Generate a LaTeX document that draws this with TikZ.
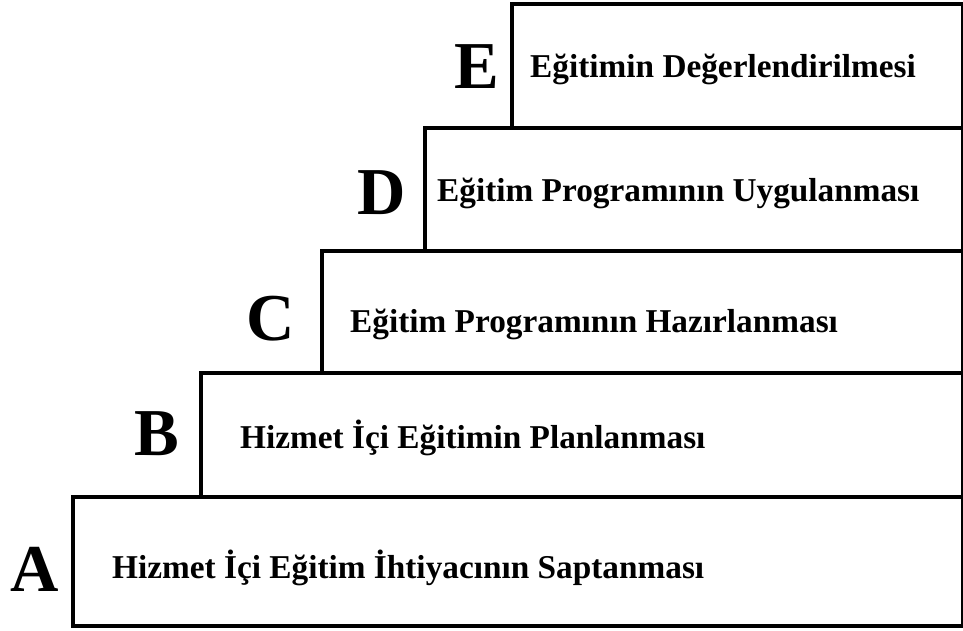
\documentclass[tikz,border=0pt]{standalone}
\usepackage{fontspec}
\setmainfont{Liberation Serif}
\begin{document}
\begin{tikzpicture}[x=1pt,y=-1pt,
  stepbox/.style={draw=black,line width=4pt},
  steplabel/.style={anchor=base west,inner sep=0pt,font=\fontsize{33.3}{34}\selectfont\bfseries},
  stepletter/.style={anchor=base,inner sep=0pt,font=\fontsize{67}{67}\selectfont\bfseries}]
\useasboundingbox (0,0) rectangle (963,630);
% stacked steps, bottom to top
\draw[stepbox] (73,497) rectangle (963,626);
\draw[stepbox] (201,373) rectangle (963,497);
\draw[stepbox] (322,251) rectangle (963,373);
\draw[stepbox] (425,128) rectangle (963,251);
\draw[stepbox] (512,4) rectangle (963,128);
% step titles
\node[steplabel] (ta) at (112,578) {Hizmet İçi Eğitim İhtiyacının Saptanması};
\node[steplabel] (tb) at (240,448) {Hizmet İçi Eğitimin Planlanması};
\node[steplabel] (tc) at (350,332) {Eğitim Programının Hazırlanması};
\node[steplabel] (td) at (437,201) {Eğitim Programının Uygulanması};
\node[steplabel] (te) at (530,77) {Eğitimin Değerlendirilmesi};
% step letters
\node[stepletter] (la) at (35,591) {A};
\node[stepletter] (lb) at (157,455) {B};
\node[stepletter] (lc) at (271,340) {C};
\node[stepletter] (ld) at (382,214) {D};
\node[stepletter] (le) at (477,88) {E};
\end{tikzpicture}
\end{document}
